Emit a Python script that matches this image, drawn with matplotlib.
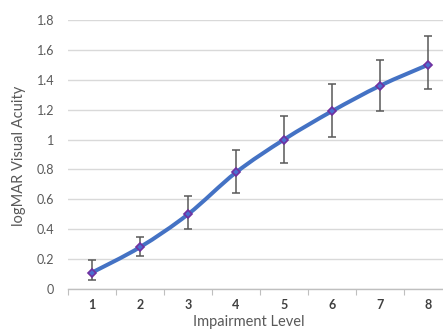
import numpy as np
import matplotlib
matplotlib.use("Agg")
import matplotlib.pyplot as plt
from matplotlib.path import Path
from matplotlib.patches import PathPatch

levels = [1, 2, 3, 4, 5, 6, 7, 8]
acuity = [0.11, 0.28, 0.50, 0.78, 1.00, 1.19, 1.36, 1.50]
err_low = [0.05, 0.06, 0.10, 0.14, 0.155, 0.17, 0.17, 0.16]
err_high = [0.085, 0.07, 0.12, 0.15, 0.155, 0.18, 0.17, 0.195]
yticks = [0, 0.2, 0.4, 0.6, 0.8, 1, 1.2, 1.4, 1.6, 1.8]

plt.rcParams['font.family'] = ['Lato', 'DejaVu Sans']
grey = "#595959"

def smooth_path(x, y, t=1/6):
    # bezier segments through the points, like Excel's smoothed line
    x = np.asarray(x, float)
    y = np.asarray(y, float)
    verts = [(x[0], y[0])]
    codes = [Path.MOVETO]
    n = len(x)
    for i in range(n - 1):
        x0, y0 = (x[i - 1], y[i - 1]) if i > 0 else (x[i], y[i])
        x3, y3 = (x[i + 2], y[i + 2]) if i + 2 < n else (x[i + 1], y[i + 1])
        c1 = (x[i] + (x[i + 1] - x0) * t, y[i] + (y[i + 1] - y0) * t)
        c2 = (x[i + 1] - (x3 - x[i]) * t, y[i + 1] - (y3 - y[i]) * t)
        verts += [c1, c2, (x[i + 1], y[i + 1])]
        codes += [Path.CURVE4] * 3
    return Path(verts, codes)

fig = plt.figure(figsize=(4.43, 3.29), dpi=100)
ax = fig.add_axes([68 / 443, 1 - 289 / 329, 384 / 443, 269 / 329])

ax.add_patch(PathPatch(smooth_path(levels, acuity), fill=False,
                       edgecolor="#4472C4", lw=2.9, capstyle="round", zorder=3))
ax.errorbar(levels, acuity, yerr=[err_low, err_high], fmt="none",
            ecolor=grey, elinewidth=1.1, capsize=3, capthick=1.1, zorder=4)
ax.plot(levels, acuity, linestyle="none", marker="D", markersize=4.2,
        markerfacecolor="#4A6FD0", markeredgecolor="#7030A0",
        markeredgewidth=1.2, zorder=5)

ax.set_xlim(0.5, 8.5)
ax.set_ylim(0, 1.8)
ax.set_yticks(yticks)
ax.set_yticklabels([f"{v:g}" for v in yticks])
ax.set_xticks(levels)
ax.set_xticklabels([str(v) for v in levels], fontweight="bold")
ax.set_xticks(np.arange(0.5, 9, 1), minor=True)
ax.tick_params(axis="y", length=0, labelsize=9, colors=grey, pad=10)
ax.tick_params(axis="x", which="major", length=0, labelsize=9,
               colors="#404040", pad=7)
ax.tick_params(axis="x", which="minor", length=4, width=0.8, color="#BFBFBF")

ax.grid(axis="y", color="#D9D9D9", lw=1)
ax.set_axisbelow(True)
for side in ["top", "right", "left"]:
    ax.spines[side].set_visible(False)
ax.spines["bottom"].set_color("#BFBFBF")
ax.spines["bottom"].set_linewidth(1)

fig.text(19 / 443, 1 - 156 / 329, "logMAR Visual Acuity", rotation=90,
         ha="center", va="center", fontsize=10.5, color=grey)
fig.text(249 / 443, 1 - 322 / 329, "Impairment Level", ha="center",
         va="center", fontsize=10.5, color=grey)

fig.savefig("out.png", dpi=100)
